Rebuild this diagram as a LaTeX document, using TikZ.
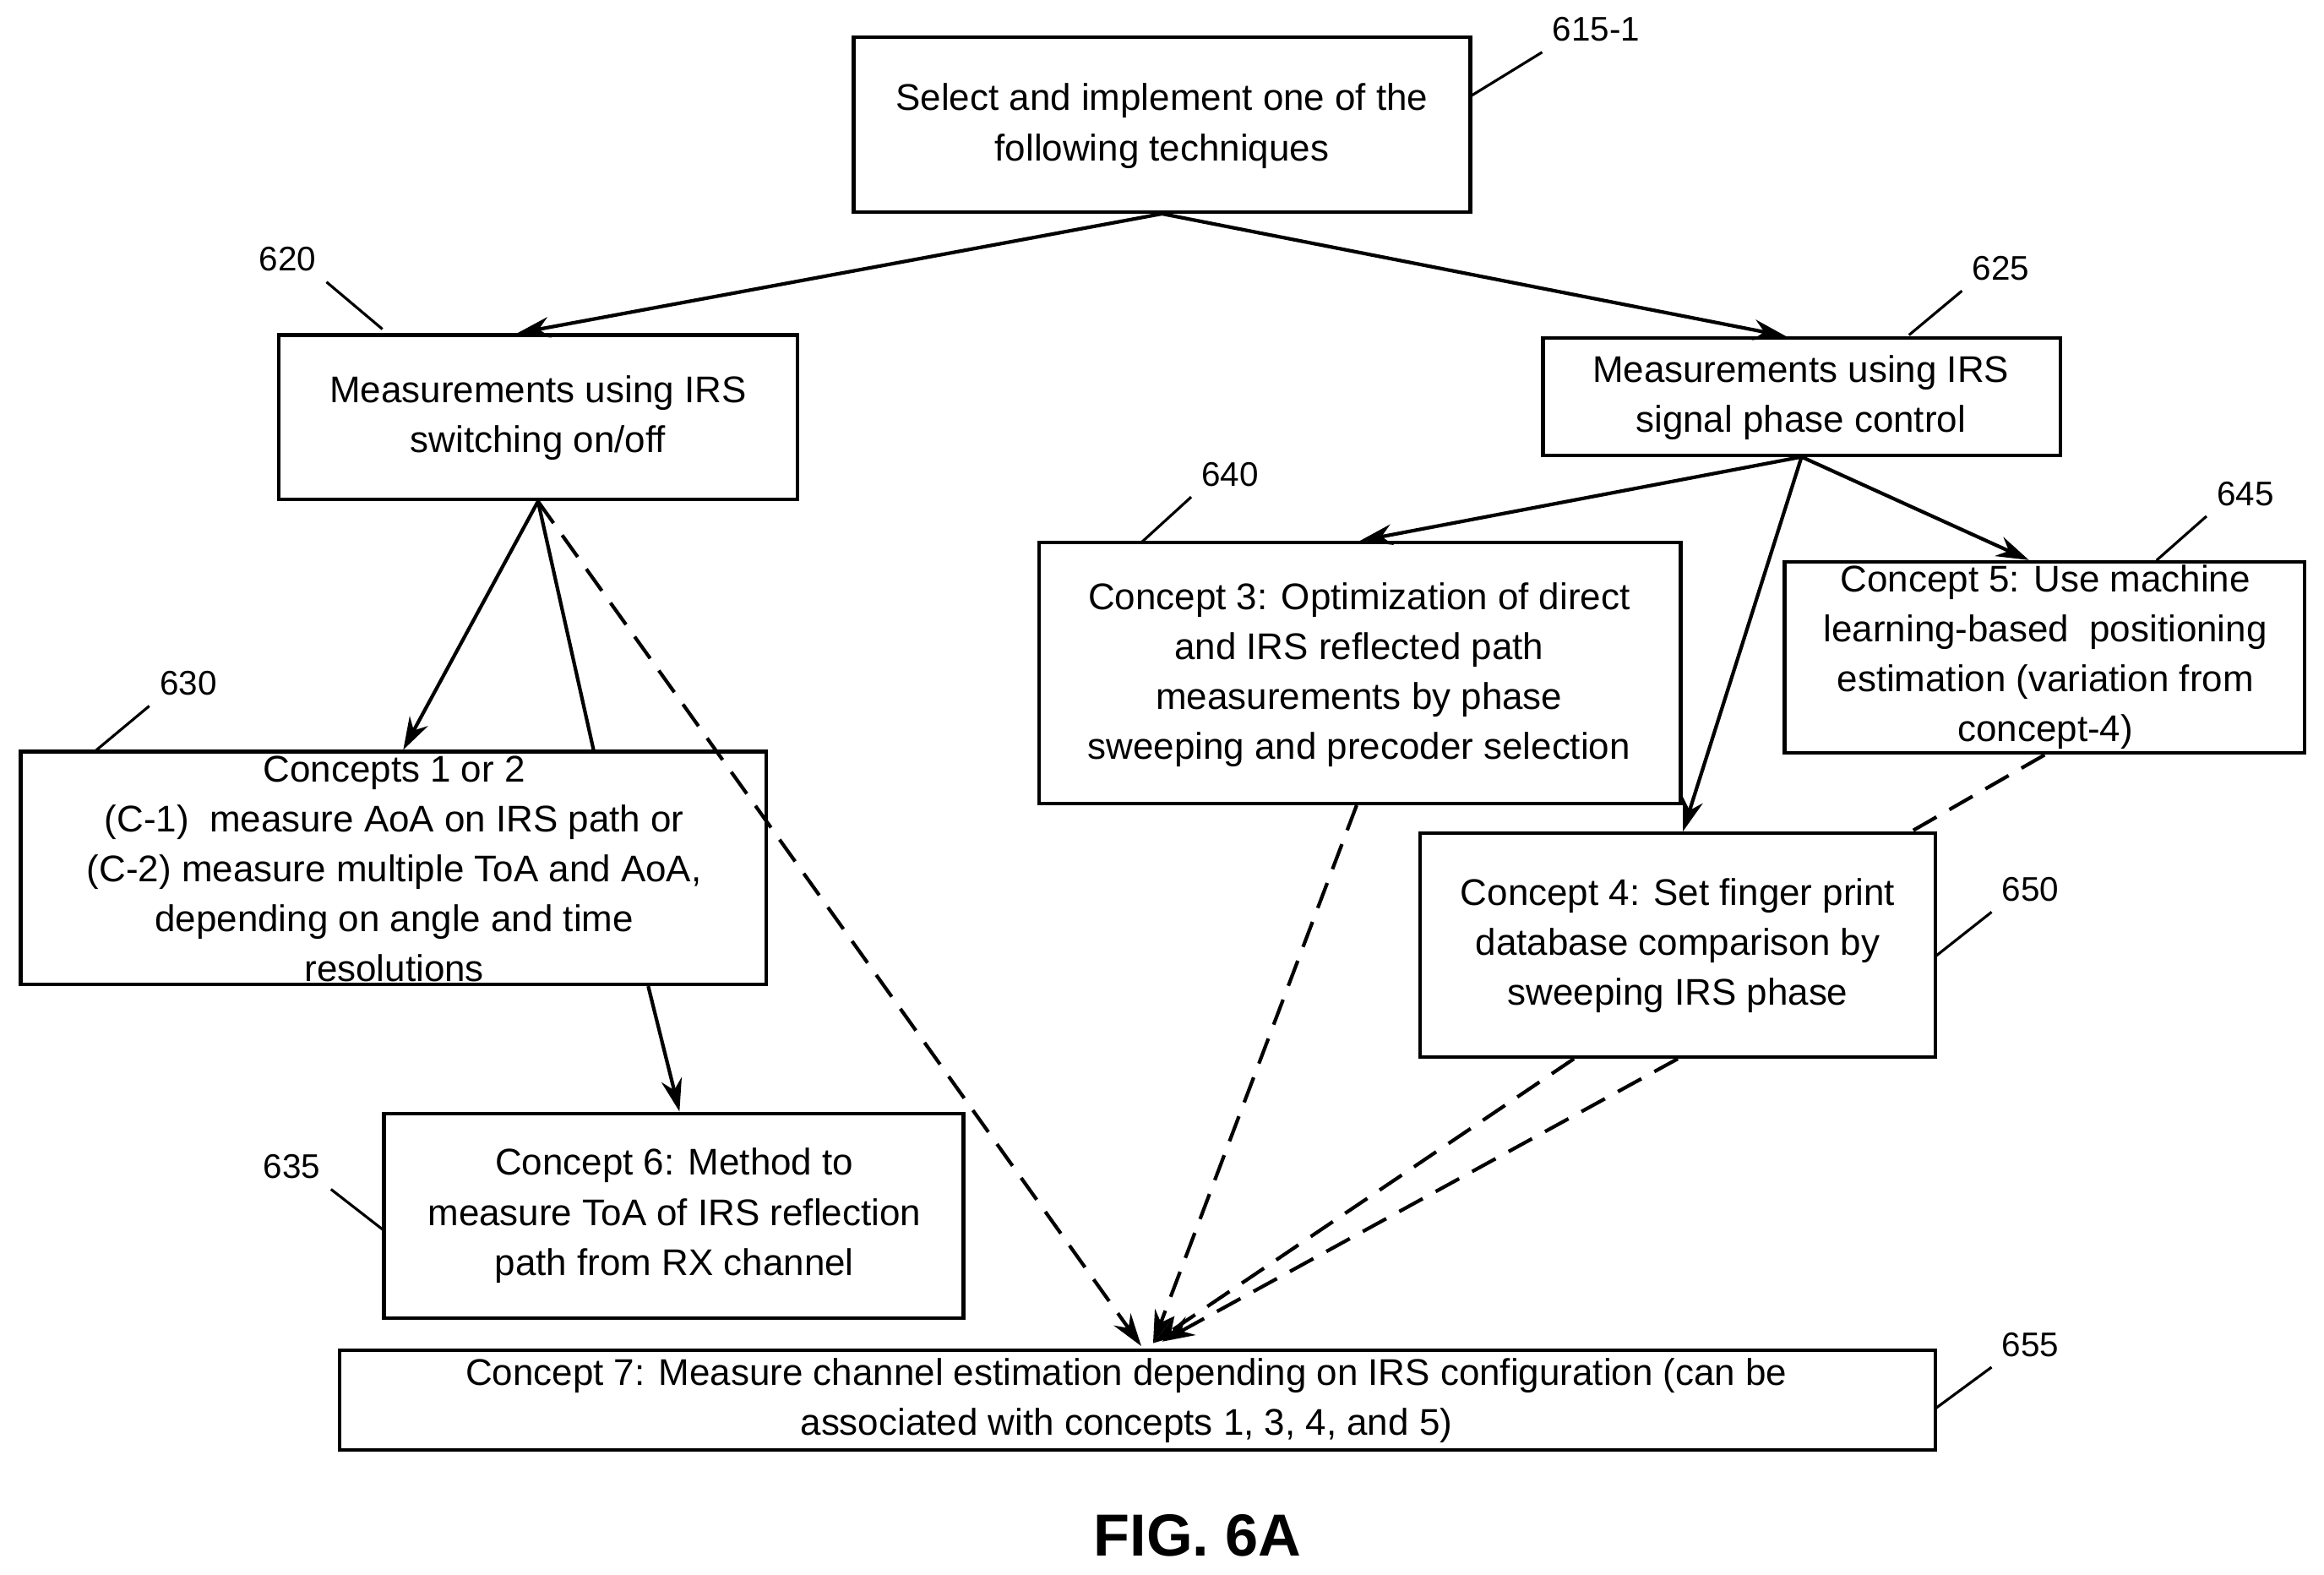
\documentclass[tikz,border=0pt]{standalone}
\usepackage{fontspec}
\setmainfont{Liberation Sans}
\usetikzlibrary{fit,calc,arrows.meta}
\begin{document}
\begin{tikzpicture}[x=0.017545cm,y=-0.017545cm,
  box/.style={draw,line width=1.2pt,inner sep=0pt},
  txt/.style={align=center,font=\fontsize{12.5}{16.8}\selectfont},
  lab/.style={font=\fontsize{11.5}{13}\selectfont},
  arr/.style={line width=1.2pt,-{Stealth[length=11pt,width=7pt]}},
  dsh/.style={line width=1.2pt,dash pattern=on 9pt off 5pt},
  lead/.style={line width=0.9pt}]
\useasboundingbox (0,0) rectangle (1568,1062);
\newcommand\mybox[5]{\coordinate (#1a) at (#2); \coordinate (#1b) at (#3);
  \node[box,fit=(#1a)(#1b)] (#1) {}; \node[txt,text width=#4] at ($(#1)+(0,#5)$) {\strut};}
\mybox{b615}{576,25}{992,143}{6cm}{0}
\node[txt] at (784,85) {Select and implement one of the\\following techniques};
\mybox{b620}{188,226}{538,337}{6cm}{0}
\node[txt] at (363,282) {Measurements using IRS\\switching on/off};
\mybox{b625}{1041,228}{1390,307}{6cm}{0}
\node[txt] at (1215,268) {Measurements using IRS\\signal phase control};
\mybox{b640}{701,366}{1134,542}{6cm}{0}
\node[txt] at (917,455) {Concept 3: Optimization of direct\\and IRS reflected path\\measurements by phase\\sweeping and precoder selection};
\mybox{b645}{1204,379}{1555,508}{6cm}{0}
\node[txt] at (1380,443) {Concept 5: Use machine\\learning-based\ \ positioning\\estimation (variation from\\concept-4)};
\mybox{b630}{14,507}{517,664}{6cm}{0}
\node[txt] at (266,586) {Concepts 1 or 2\\(C-1)\ \ measure AoA on IRS path or\\(C-2) measure multiple ToA and AoA,\\depending on angle and time\\resolutions};
\mybox{b650}{958,562}{1306,713}{6cm}{0}
\node[txt] at (1132,638) {Concept 4: Set finger print\\database comparison by\\sweeping IRS phase};
\mybox{b635}{259,751}{650,889}{6cm}{0}
\node[txt] at (455,820) {Concept 6: Method to\\measure ToA of IRS reflection\\path from RX channel};
\mybox{b655}{229,911}{1306,978}{6cm}{0}
\node[txt] at (760,945) {Concept 7: Measure channel estimation depending on IRS configuration (can be\\associated with concepts 1, 3, 4, and 5)};
\node[font=\bfseries\fontsize{20}{24}\selectfont] (fig) at (808,1036) {FIG. 6A};
% arrows
\coordinate (m1) at (770,908); \coordinate (m2) at (778,906); \coordinate (m3) at (784,905);
\draw[arr] (b615.south) -- ($(b620.north west)!0.46!(b620.north east)$);
\draw[arr] (b615.south) -- ($(b625.north west)!0.47!(b625.north east)$);
\draw[arr] (b620.south) -- ($(b630.north west)!0.513!(b630.north east)$);
\draw[line width=1.2pt] (b620.south) -- ($(b630.north west)!0.767!(b630.north east)$);
\draw[dsh,-{Stealth[length=11pt,width=7pt]}] (b620.south) -- (m1);
\draw[arr] ($(b630.south west)!0.84!(b630.south east)$) -- ($(b635.north west)!0.51!(b635.north east)$);
\draw[arr] (b625.south) -- ($(b640.north west)!0.5!(b640.north east)$);
\draw[arr] (b625.south) -- ($(b650.north west)!0.51!(b650.north east)$);
\draw[arr] (b625.south) -- ($(b645.north west)!0.47!(b645.north east)$);
\draw[dsh,-{Stealth[length=11pt,width=7pt]}] ($(b640.south west)!0.495!(b640.south east)$) -- (m2);
\draw[dsh] ($(b645.south west)!0.5!(b645.south east)$) -- ($(b650.north west)!0.95!(b650.north east)$);
\draw[dsh,-{Stealth[length=11pt,width=7pt]}] ($(b650.south west)!0.3!(b650.south east)$) -- (m2);
\draw[dsh,-{Stealth[length=11pt,width=7pt]}] ($(b650.south west)!0.5!(b650.south east)$) -- (m3);
% labels
\node[lab] (l615) at (1077,20) {615-1}; \draw[lead] (992,65) -- (l615.south west);
\node[lab] (l620) at (194,175) {620}; \draw[lead] (l620.south east) -- (258,222);
\node[lab] (l625) at (1350,181) {625}; \draw[lead] (1288,226) -- (l625.south west);
\node[lab] (l640) at (830,320) {640}; \draw[lead] (770,366) -- (l640.south west);
\node[lab] (l645) at (1515,333) {645}; \draw[lead] (1455,378) -- (l645.south west);
\node[lab] (l630) at (127,461) {630}; \draw[lead] (65,506) -- (l630.south west);
\node[lab] (l650) at (1370,600) {650}; \draw[lead] (1306,645) -- (l650.south west);
\node[lab] (l635) at (197,787) {635}; \draw[lead] (l635.south east) -- (259,830);
\node[lab] (l655) at (1370,907) {655}; \draw[lead] (1306,950) -- (l655.south west);
\end{tikzpicture}
\end{document}
